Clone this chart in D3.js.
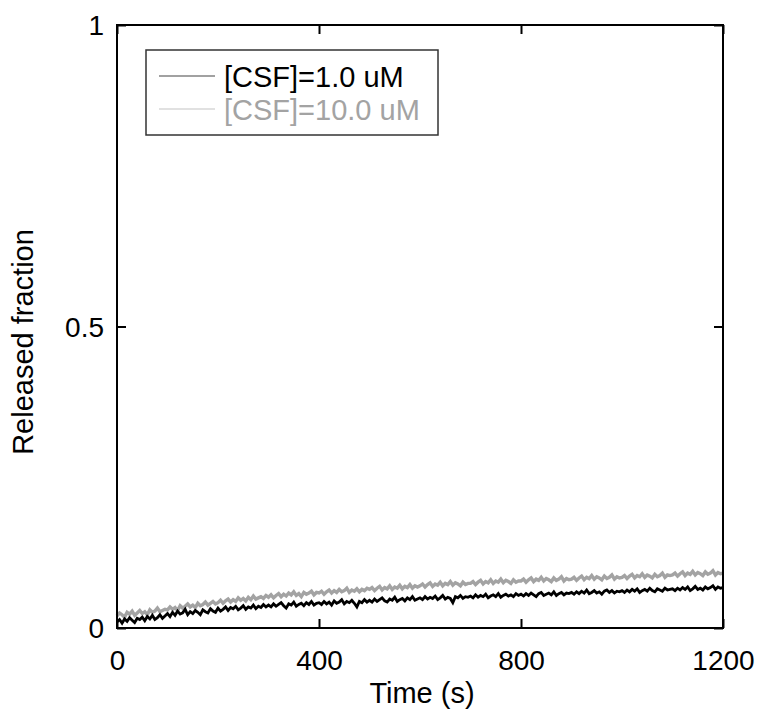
<!DOCTYPE html>
<html>
<head>
<meta charset="utf-8">
<script src="https://cdn.jsdelivr.net/npm/d3@7"></script>
<style>
  body { margin: 0; background: #fff; }
  svg { display: block; font-family: "Liberation Sans", Arial, sans-serif; }
</style>
</head>
<body>
<svg id="chart" width="758" height="709"></svg>
<script>
// Data, released fraction in thousandths, one sample every 5 s
var seriesNames = ["[CSF]=1.0 uM", "[CSF]=10.0 uM"];
var sampleStep = 5;

var csf1 = [
  10, 14, 8, 15, 11, 17, 13, 9, 16, 14, 18, 12, 19, 15, 21, 14, 17, 22, 16, 20,
  24, 19, 26, 21, 28, 23, 25, 31, 22, 27, 24, 29, 26, 22, 30, 27, 25, 32, 28, 26,
  33, 28, 31, 35, 29, 34, 32, 36, 30, 33, 37, 31, 35, 33, 38, 32, 36, 34, 39, 35,
  38, 35, 40, 36, 39, 42, 37, 33, 40, 38, 43, 36, 39, 41, 37, 42, 39, 44, 38, 41,
  42, 39, 44, 40, 43, 38, 45, 41, 43, 47, 40, 44, 42, 46, 41, 35, 44, 42, 47, 43,
  46, 43, 48, 44, 47, 50, 45, 43, 48, 46, 51, 44, 47, 49, 45, 50, 47, 52, 46, 48,
  50, 47, 52, 48, 51, 49, 53, 47, 50, 54, 48, 51, 49, 42, 52, 50, 54, 49, 52, 51,
  53, 50, 55, 51, 54, 52, 56, 50, 53, 55, 52, 57, 51, 54, 56, 53, 55, 52, 57, 54,
  56, 53, 57, 54, 58, 55, 52, 57, 59, 54, 56, 58, 55, 60, 54, 57, 59, 55, 58, 57,
  59, 56, 60, 57, 61, 58, 63, 57, 59, 62, 58, 60, 56, 61, 63, 59, 62, 58, 61, 60,
  62, 59, 63, 60, 64, 61, 65, 59, 62, 64, 61, 66, 62, 60, 65, 63, 61, 66, 63, 64,
  65, 62, 66, 63, 67, 64, 68, 62, 65, 69, 64, 66, 63, 68, 65, 67, 70, 64, 68, 66,
  67
];

var csf10 = [
  20, 25, 22, 18, 26, 23, 28, 21, 25, 29, 24, 27, 22, 30, 26, 28, 33, 27, 29, 31,
  30, 35, 31, 34, 29, 37, 33, 36, 40, 35, 38, 34, 41, 37, 39, 43, 38, 41, 44, 40,
  42, 46, 41, 45, 48, 43, 47, 44, 50, 46, 49, 45, 51, 47, 53, 48, 50, 52, 49, 54,
  51, 55, 50, 54, 57, 52, 56, 53, 58, 55, 60, 54, 57, 52, 59, 56, 58, 61, 55, 59,
  58, 61, 56, 60, 63, 58, 62, 59, 64, 60, 62, 66, 59, 63, 61, 65, 60, 64, 62, 66,
  64, 67, 62, 66, 69, 63, 67, 65, 70, 64, 68, 66, 71, 65, 69, 67, 72, 66, 70, 68,
  70, 73, 68, 72, 75, 69, 73, 71, 76, 70, 74, 72, 77, 71, 75, 73, 70, 76, 72, 74,
  74, 77, 72, 76, 79, 73, 77, 75, 80, 74, 78, 76, 81, 75, 79, 77, 74, 80, 76, 78,
  78, 81, 76, 80, 83, 77, 81, 79, 84, 78, 82, 80, 77, 83, 79, 81, 85, 78, 82, 80,
  81, 84, 79, 83, 86, 80, 84, 82, 87, 81, 85, 83, 80, 86, 82, 84, 88, 81, 85, 83,
  84, 87, 82, 86, 89, 83, 87, 85, 90, 84, 88, 86, 83, 89, 85, 87, 91, 84, 88, 87,
  88, 91, 86, 90, 93, 87, 91, 89, 94, 88, 92, 90, 87, 93, 89, 91, 95, 88, 92, 90,
  91
];

var xTicks = [0, 400, 800, 1200];
var yTicks = [0, 0.5, 1];
var seriesColors = ["#000000", "#a3a3a3"];

// Dimensions
var margin = { top: 25, right: 35, bottom: 81, left: 117 };
var width = 758 - margin.left - margin.right;
var height = 709 - margin.top - margin.bottom;
var tickLen = 9;

var svg = d3.select("#chart");
var g = svg.append("g")
  .attr("transform", "translate(" + margin.left + "," + margin.top + ")");

var x = d3.scaleLinear().domain([0, 1200]).range([0, width]);
var y = d3.scaleLinear().domain([0, 1]).range([height, 0]);

function toPoints(values) {
  return values.map(function(v, i) {
    return { t: i * sampleStep, f: v / 1000 };
  });
}

var line = d3.line()
  .x(function(d) { return x(d.t); })
  .y(function(d) { return y(d.f); });

// gray (10 uM) under black (1 uM); the raw traces are noisy bands, so draw them thick
var traces = [
  { name: seriesNames[1], color: seriesColors[1], w: 3.4, pts: toPoints(csf10) },
  { name: seriesNames[0], color: seriesColors[0], w: 2.8, pts: toPoints(csf1) }
];

g.selectAll("path.trace")
  .data(traces)
  .enter()
  .append("path")
  .attr("class", "trace")
  .attr("d", function(d) { return line(d.pts); })
  .attr("fill", "none")
  .attr("stroke", function(d) { return d.color; })
  .attr("stroke-width", function(d) { return d.w; })
  .attr("stroke-linejoin", "miter")
  .attr("stroke-miterlimit", 3);

var fmt = d3.format("~g");

// axes with inward ticks on all four sides
var bottomAxis = d3.axisBottom(x).tickValues(xTicks).tickSizeInner(-tickLen).tickSizeOuter(0)
  .tickPadding(18).tickFormat(fmt);
var topAxis = d3.axisTop(x).tickValues(xTicks).tickSizeInner(-tickLen).tickSizeOuter(0)
  .tickFormat("");
var leftAxis = d3.axisLeft(y).tickValues(yTicks).tickSizeInner(-tickLen).tickSizeOuter(0)
  .tickPadding(13).tickFormat(fmt);
var rightAxis = d3.axisRight(y).tickValues(yTicks).tickSizeInner(-tickLen).tickSizeOuter(0)
  .tickFormat("");

var axes = [
  g.append("g").attr("transform", "translate(0," + height + ")").call(bottomAxis),
  g.append("g").call(topAxis),
  g.append("g").call(leftAxis),
  g.append("g").attr("transform", "translate(" + width + ",0)").call(rightAxis)
];

axes.forEach(function(a) {
  a.select(".domain").remove();
  a.selectAll(".tick line").attr("stroke", "#000").attr("stroke-width", 2);
  a.selectAll(".tick text")
    .attr("fill", "#000")
    .style("font-size", "28px")
    .style("font-family", "'Liberation Sans', Arial, sans-serif");
});

axes[0].selectAll(".tick text").attr("dy", "0.71em").attr("y", 22);
axes[2].selectAll(".tick text").attr("dy", "0.35em");

// frame
g.append("rect")
  .attr("x", 0)
  .attr("y", 0)
  .attr("width", width)
  .attr("height", height)
  .attr("fill", "none")
  .attr("stroke", "#000")
  .attr("stroke-width", 2);

// axis titles
svg.append("text")
  .attr("x", margin.left + width / 2 + 2)
  .attr("y", 703)
  .attr("text-anchor", "middle")
  .style("font-size", "29px")
  .text("Time (s)");

svg.append("text")
  .attr("transform", "translate(33,342) rotate(-90)")
  .attr("text-anchor", "middle")
  .style("font-size", "29px")
  .text("Released fraction");

// legend
var legend = svg.append("g");
legend.append("rect")
  .attr("x", 146)
  .attr("y", 50)
  .attr("width", 292)
  .attr("height", 85)
  .attr("fill", "#fff")
  .attr("stroke", "#333")
  .attr("stroke-width", 1.5);

var legendRows = [
  { name: seriesNames[0], line: "#444", text: seriesColors[0] },
  { name: seriesNames[1], line: "#c4c4c4", text: seriesColors[1] }
];

var rows = legend.selectAll("g.row")
  .data(legendRows)
  .enter()
  .append("g")
  .attr("class", "row")
  .attr("transform", function(d, i) { return "translate(0," + (76 + i * 33) + ")"; });

rows.append("line")
  .attr("x1", 159)
  .attr("x2", 215)
  .attr("y1", 0)
  .attr("y2", 0)
  .attr("stroke", function(d) { return d.line; })
  .attr("stroke-width", 1.2);

rows.append("text")
  .attr("x", 224)
  .attr("y", 11)
  .attr("fill", function(d) { return d.text; })
  .style("font-size", "29px")
  .text(function(d) { return d.name; });
</script>
</body>
</html>
